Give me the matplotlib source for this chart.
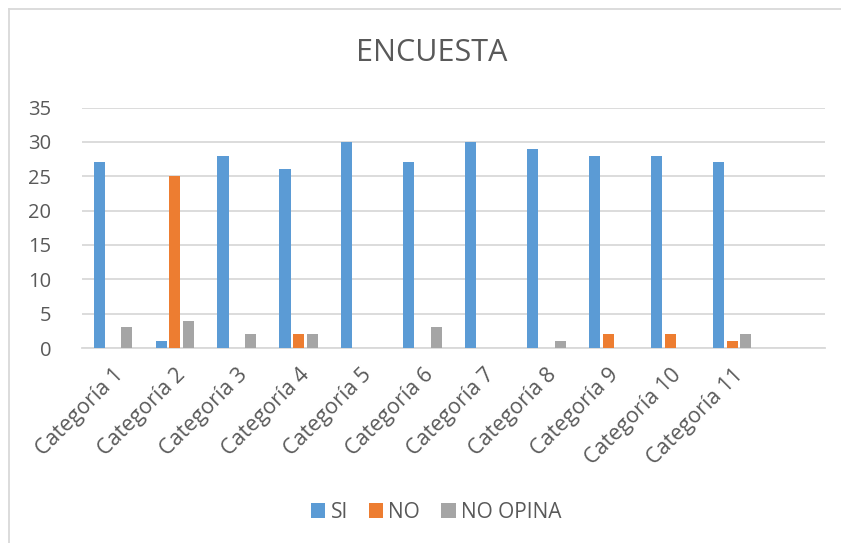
import matplotlib
matplotlib.use("Agg")
import matplotlib.pyplot as plt
from matplotlib.lines import Line2D
from matplotlib.patches import Patch
import numpy as np

plt.rcParams['font.family'] = ['Open Sans', 'DejaVu Sans']

categories = ["Categoría 1", "Categoría 2", "Categoría 3", "Categoría 4",
              "Categoría 5", "Categoría 6", "Categoría 7", "Categoría 8",
              "Categoría 9", "Categoría 10", "Categoría 11", ""]
si = [27, 1, 28, 26, 30, 27, 30, 29, 28, 28, 27, 0]
no = [0, 25, 0, 2, 0, 0, 0, 0, 2, 2, 1, 0]
no_opina = [3, 4, 2, 2, 0, 3, 0, 1, 0, 0, 2, 0]
series_names = ["SI", "NO", "NO OPINA"]
colors = ["#5B9BD5", "#ED7D31", "#A5A5A5"]
text_color = "#595959"

W, H = 841, 543
fig = plt.figure(figsize=(W / 100, H / 100), dpi=100)
ax = fig.add_axes([82 / W, 1 - 348 / H, (825 - 82) / W, (348 - 107.5) / H])

x = np.arange(len(categories))
step = 0.222
width = 0.18
for i, (vals, c) in enumerate(zip([si, no, no_opina], colors)):
    ax.bar(x + (i - 1) * step, vals, width=width, color=c, zorder=3)

ax.set_xlim(-0.5, len(categories) - 0.5)
ax.set_ylim(0, 35)
ax.set_yticks(range(0, 36, 5))
ax.yaxis.grid(True, color="#D9D9D9", linewidth=1.3, zorder=0)
for s in ["top", "right", "left"]:
    ax.spines[s].set_visible(False)
ax.spines["bottom"].set_color("#D9D9D9")
ax.spines["bottom"].set_linewidth(1.3)
ax.tick_params(axis="both", length=0, colors=text_color, labelsize=14.5)
ax.tick_params(axis="y", pad=22)
ax.set_xticks(x)
ax.set_xticklabels(categories, rotation=45, ha="right", rotation_mode="anchor",
                   color=text_color, fontsize=15.5)
ax.tick_params(axis="x", pad=12)

fig.text(432 / W, 1 - 53 / H, "ENCUESTA", ha="center", va="center",
         fontsize=22, color=text_color)

handles = [Patch(facecolor=c, edgecolor="none") for c in colors]
fig.legend(handles, series_names, loc="center", bbox_to_anchor=(436 / W, 1 - 512 / H),
           ncol=3, frameon=False, fontsize=15, labelcolor=text_color,
           handlelength=0.7, handleheight=0.7, handletextpad=0.25, columnspacing=1.0)

# chart area border (top and left edges)
fig.add_artist(Line2D([8.5 / W, 1.0], [1 - 8.5 / H, 1 - 8.5 / H], transform=fig.transFigure,
                      color="#D9D9D9", linewidth=1.3))
fig.add_artist(Line2D([8.5 / W, 8.5 / W], [0, 1 - 8.5 / H], transform=fig.transFigure,
                      color="#D9D9D9", linewidth=1.3))

fig.savefig("out.png", dpi=100, facecolor="white")
